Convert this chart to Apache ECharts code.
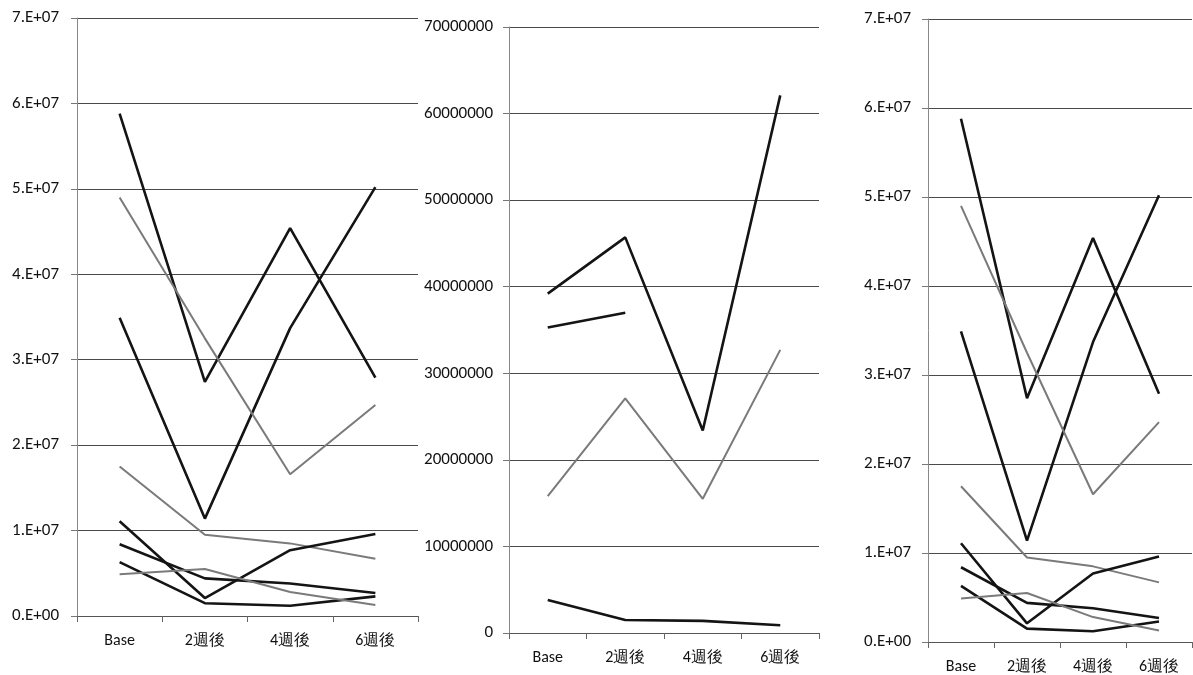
<!DOCTYPE html>
<html><head><meta charset="utf-8">
<script src="https://cdn.jsdelivr.net/npm/echarts@6/dist/echarts.min.js"></script>
<style>html,body{margin:0;padding:0;background:#fff}#c{width:1193px;height:675px}</style>
</head><body><div id="c"></div>
<script>
const categories = ['Base', '2週後', '4週後', '6週後'];
const sciTickLabels = ['0.E+00','1.E+07','2.E+07','3.E+07','4.E+07','5.E+07','6.E+07','7.E+07'];
const plainTickLabels = ['0','10000000','20000000','30000000','40000000','50000000','60000000','70000000'];

// Panel 1 / Panel 3 series (same data)
const sA = [58800000, 27400000, 45400000, 27900000];
const sB = [34900000, 11400000, 33700000, 50200000];
const sC = [49000000, 32500000, 16600000, 24700000];
const sD = [17500000, 9500000, 8500000, 6700000];
const sE = [11100000, 2100000, 7700000, 9600000];
const sF = [8400000, 4400000, 3800000, 2700000];
const sG = [6300000, 1500000, 1200000, 2300000];
const sH = [4900000, 5500000, 2800000, 1300000];
const leftSeries = [
  {data: sA, tone: 'dark'}, {data: sB, tone: 'dark'}, {data: sC, tone: 'grey'},
  {data: sD, tone: 'grey'}, {data: sE, tone: 'dark'}, {data: sF, tone: 'dark'},
  {data: sG, tone: 'dark'}, {data: sH, tone: 'grey'}
];

// Panel 2 series
const mI = [39200000, 45700000, 23400000, 62100000];
const mJ = [35300000, 37000000, null, null];
const mK = [15800000, 27100000, 15500000, 32700000];
const mL = [3800000, 1500000, 1400000, 900000];
const midSeries = [
  {data: mI, tone: 'dark'}, {data: mJ, tone: 'dark'}, {data: mK, tone: 'grey'}, {data: mL, tone: 'dark'}
];

const FONT = 'Carlito, Calibri, Lato, sans-serif';
const chart = echarts.init(document.getElementById('c'));

const panels = [
  {grid: {left: 77, top: 18, width: 341, height: 598}, labels: sciTickLabels, yFont: 17, yMargin: 18, xMargin: 17, series: leftSeries},
  {grid: {left: 509, top: 27, width: 310, height: 606}, labels: plainTickLabels, yFont: 17, yMargin: 16, xMargin: 17, series: midSeries},
  {grid: {left: 928, top: 19, width: 264, height: 625}, labels: sciTickLabels, yFont: 17, yMargin: 17, xMargin: 17, series: leftSeries}
];

const grids = [], xAxes = [], yAxes = [], series = [];
panels.forEach((p, i) => {
  grids.push(Object.assign({containLabel: false}, p.grid));
  xAxes.push({
    type: 'category', gridIndex: i, data: categories, boundaryGap: true,
    axisLine: {lineStyle: {color: '#555', width: 1}},
    axisTick: {show: true, alignWithLabel: false, length: 6, lineStyle: {color: '#666'}},
    axisLabel: {color: '#111', fontSize: 16, fontFamily: FONT, margin: p.xMargin}
  });
  const labs = p.labels;
  yAxes.push({
    type: 'value', gridIndex: i, min: 0, max: 70000000, interval: 10000000,
    axisLine: {show: true, lineStyle: {color: '#888', width: 1}},
    axisTick: {show: true, length: 6, lineStyle: {color: '#777'}},
    splitLine: {show: true, lineStyle: {color: '#4a4a4a', width: 1}},
    axisLabel: {color: '#111', fontSize: p.yFont, fontFamily: FONT, margin: p.yMargin,
      formatter: v => labs[Math.round(v / 10000000)]}
  });
  p.series.forEach(s => {
    series.push({
      type: 'line', xAxisIndex: i, yAxisIndex: i, data: s.data,
      showSymbol: false, symbol: 'none', connectNulls: false, silent: true,
      lineStyle: s.tone === 'dark' ? {color: '#141414', width: 2.6} : {color: '#7a7a7a', width: 2}
    });
  });
});

chart.setOption({
  animation: false,
  backgroundColor: '#fff',
  grid: grids, xAxis: xAxes, yAxis: yAxes, series: series
});
</script>
</body></html>
